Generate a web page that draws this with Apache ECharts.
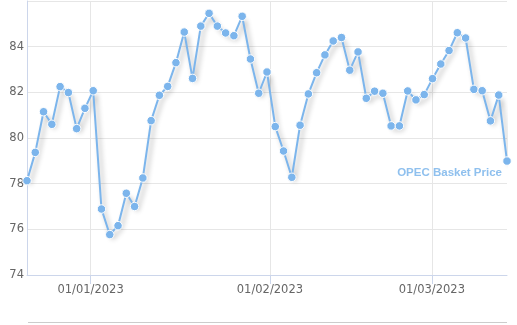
<!DOCTYPE html>
<html>
<head>
<meta charset="utf-8">
<script src="https://cdn.jsdelivr.net/npm/echarts@6/dist/echarts.min.js"></script>
<style>
html,body{margin:0;padding:0;background:#fff;}
#chart{width:517px;height:325px;}
</style>
</head>
<body>
<div id="chart"></div>
<script>
// Trading dates (OPEC basket, evenly spaced "ordinal" axis)
const dates = [
  '2022-12-21','2022-12-22','2022-12-23','2022-12-26','2022-12-27','2022-12-28','2022-12-29','2022-12-30',
  '2023-01-03','2023-01-04','2023-01-05','2023-01-06','2023-01-09','2023-01-10','2023-01-11','2023-01-12',
  '2023-01-13','2023-01-16','2023-01-17','2023-01-18','2023-01-19','2023-01-20','2023-01-23','2023-01-24',
  '2023-01-25','2023-01-26','2023-01-27','2023-01-30','2023-01-31',
  '2023-02-01','2023-02-02','2023-02-03','2023-02-06','2023-02-07','2023-02-08','2023-02-09','2023-02-10',
  '2023-02-13','2023-02-14','2023-02-15','2023-02-16','2023-02-17','2023-02-20','2023-02-21','2023-02-22',
  '2023-02-23','2023-02-24','2023-02-27','2023-02-28',
  '2023-03-01','2023-03-02','2023-03-03','2023-03-06','2023-03-07','2023-03-08','2023-03-09','2023-03-10',
  '2023-03-13','2023-03-14'
];
const prices = [
  78.13, 79.37, 81.15, 80.60, 82.25, 81.99, 80.41, 81.30,
  82.07, 76.89, 75.77, 76.16, 77.58, 77.00, 78.25, 80.76,
  81.87, 82.26, 83.30, 84.64, 82.61, 84.90, 85.46, 84.90,
  84.60, 84.48, 85.33, 83.46, 81.96,
  82.89, 80.50, 79.43, 78.28, 80.56, 81.93, 82.86, 83.64,
  84.25, 84.40, 82.97, 83.77, 81.74, 82.05, 81.96, 80.53,
  80.53, 82.06, 81.67, 81.90,
  82.60, 83.24, 83.83, 84.61, 84.38, 82.13, 82.07, 80.75,
  81.88, 78.99
];
const seriesName = 'OPEC Basket Price';
const monthTicks = ['2023-01-01', '2023-02-01', '2023-03-01'];
const yTicks = [74, 76, 78, 80, 82, 84, 86];

// day number (UTC based, no timezone issues)
function toDay(s) {
  const p = s.split('-').map(Number);
  return Date.UTC(p[0], p[1] - 1, p[2]) / 864e5;
}
function pad(n) { return (n < 10 ? '0' : '') + n; }
function fmt(v) {
  const d = new Date(Math.round(v) * 864e5);
  return pad(d.getUTCDate()) + '/' + pad(d.getUTCMonth() + 1) + '/' + d.getUTCFullYear();
}
const tickDays = monthTicks.map(toDay);

const chart = echarts.init(document.getElementById('chart'), null, {renderer: 'canvas'});
chart.setOption({
  animation: false,
  backgroundColor: '#ffffff',
  textStyle: {fontFamily: 'DejaVu Sans'},
  grid: {left: 27, right: 10, top: 1, bottom: 50, containLabel: false},
  xAxis: [
    {
      type: 'category',
      data: dates,
      boundaryGap: false,
      axisLine: {show: false},
      axisTick: {show: false},
      axisLabel: {show: false},
      splitLine: {show: false}
    },
    {
      type: 'value',
      position: 'bottom',
      min: toDay(dates[0]),
      max: toDay(dates[dates.length - 1]),
      axisLine: {show: true, lineStyle: {color: '#ccd6eb', width: 1}},
      axisTick: {show: true, length: 9, customValues: tickDays, lineStyle: {color: '#ccd6eb'}},
      axisLabel: {
        show: true, customValues: tickDays, formatter: fmt,
        color: '#666666', fontSize: 11.5, margin: 9, fontFamily: 'DejaVu Sans'
      },
      splitLine: {show: true, lineStyle: {color: '#e6e6e6', width: 1}}
    }
  ],
  yAxis: {
    type: 'value',
    min: yTicks[0],
    max: yTicks[yTicks.length - 1],
    interval: 2,
    axisLine: {show: true, lineStyle: {color: '#ccd6eb'}},
    axisTick: {show: false},
    axisLabel: {
      color: '#666666', fontSize: 11.5, margin: 3, showMaxLabel: false,
      padding: [0, 0, 7, 0], fontFamily: 'DejaVu Sans'
    },
    splitLine: {show: true, lineStyle: {color: '#e6e6e6', width: 1}}
  },
  graphic: [
    {type: 'line', shape: {x1: 28, y1: 322.5, x2: 507, y2: 322.5}, style: {stroke: '#cccccc', lineWidth: 1}, silent: true}
  ],
  series: [{
    name: seriesName,
    type: 'line',
    xAxisIndex: 0,
    data: prices,
    symbol: 'circle',
    symbolSize: 8.5,
    showAllSymbol: true,
    clip: false,
    lineStyle: {
      color: '#7cb5ec', width: 2,
      shadowColor: 'rgba(0,0,0,0.3)', shadowBlur: 5, shadowOffsetX: 3, shadowOffsetY: 4
    },
    itemStyle: {color: '#7cb5ec', borderColor: '#ffffff', borderWidth: 1},
    endLabel: {
      show: true,
      formatter: seriesName,
      color: '#8fc0ee',
      fontWeight: 'bold',
      fontSize: 11.5,
      fontFamily: 'Liberation Sans',
      align: 'right',
      verticalAlign: 'middle',
      distance: 0,
      offset: [-5, 12]
    }
  }]
});
</script>
</body>
</html>
